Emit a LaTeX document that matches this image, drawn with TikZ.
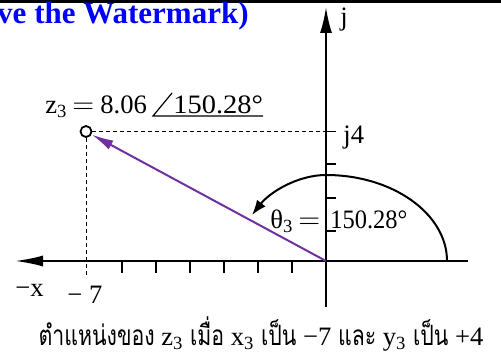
\documentclass[tikz,border=0pt]{standalone}
\usepackage{fontspec}
\setmainfont{Liberation Serif}
\newfontfamily\thaifont[Script=Thai,FakeStretch=0.76]{Loma}
\usetikzlibrary{arrows.meta}
\definecolor{zpurple}{RGB}{112,48,160}
\definecolor{wmblue}{RGB}{0,0,255}
\begin{document}
\begin{tikzpicture}[x=0.5pt,y=-0.5pt,
  axis/.style={line width=1pt},
  tickline/.style={line width=0.8pt},
  guide/.style={line width=0.5pt, dash pattern=on 2pt off 1.5pt},
  lbl/.style={inner sep=0pt, anchor=base west, font=\fontsize{13.3}{15}\selectfont},
  every node/.style={inner sep=0pt}]
\useasboundingbox (0,0) rectangle (501,358);
% page border artefact
\coordinate (bl) at (0,1.5);
\coordinate (br) at (501,1.5);
\draw[line width=1.2pt] (bl) -- (br);
\coordinate (bt1) at (309,0);
\coordinate (bt2) at (309,1.5);
\draw[line width=0.5pt] (bt1) -- (bt2);
% watermark
\node[anchor=base east, text=wmblue, font=\bfseries\fontsize{15.5}{17}\selectfont] (wm) at (249,24) {ve the Watermark)};
% axes
\coordinate (O) at (326,261);
\coordinate (xl) at (15,261);
\coordinate (xr) at (468,261);
\coordinate (yt) at (326,7);
\coordinate (yb) at (326,307);
\draw[axis, -{Latex[length=14pt,width=5.5pt]}] (xr) -- (xl);
\draw[axis, -{Latex[length=13pt,width=6pt]}] (yb) -- (yt);
% x ticks
\foreach \k in {1,...,6}{
  \coordinate (xt\k) at ({326-34*\k},261);
  \draw[tickline] (xt\k) -- ++(0,12);
}
% y ticks
\foreach \yy [count=\k] in {231,198,164,131.5}{
  \coordinate (yt\k) at (326,\yy);
  \draw[tickline] (yt\k) -- ++(10,0);
}
% point z3
\node[draw, circle, line width=0.9pt, fill=white, minimum size=5.5pt] (z) at (86,131.5) {};
\coordinate (zh) at (326,131.5);
\coordinate (zv) at (86,276);
\draw[guide] (z.east) -- (zh);
\draw[guide] (z.south) -- (zv);
\draw[zpurple, line width=1pt, -{Latex[length=11pt,width=5pt]}] (O) -- (z);
% angle arc
\coordinate (a0) at (447,261);
\coordinate (a1) at (326,175);
\coordinate (a2) at (252,215);
\draw[line width=1pt, -{Latex[length=7.5pt,width=5.5pt]}] (a0) .. controls (447,214) and (393,175) .. (a1) .. controls (298,175) and (270,192) .. (a2);
% z3 label
\node[lbl] (zl) at (45,113) {z\textsubscript{3}};
\node[lbl] (zeq) at (72,113) {$=$};
\node[lbl] (zmag) at (100,113) {8.06};
\node[lbl] (zang) at (173,113) {\scalebox{1.07}[1]{150.28°}};
\coordinate (u0) at (153,116);
\coordinate (u1) at (263,116);
\coordinate (u2) at (172,93);
\draw[line width=0.6pt] (u2) -- (u0) -- (u1);
% theta label
\node[lbl] (th) at (270,228) {θ\textsubscript{3}};
\node[lbl] (theq) at (298,228) {$=$};
\node[lbl] (thv) at (330,228) {\scalebox{0.92}[1]{150.28°}};
\node[lbl] (j) at (340,26) {j};
\node[lbl] (j4) at (343,143) {j4};
\node[lbl] (mx) at (15,296) {−x};
\node[lbl] (m7) at (67,303) {− 7};
\node[anchor=base, font=\fontsize{13.3}{15}\selectfont] (cap) at (261,345) {{\thaifont\fontsize{14}{15}\selectfont ตำแหน่งของ} z\textsubscript{3} {\thaifont\fontsize{14}{15}\selectfont เมื่อ} x\textsubscript{3} {\thaifont\fontsize{14}{15}\selectfont เป็น} −7 {\thaifont\fontsize{14}{15}\selectfont และ} y\textsubscript{3} {\thaifont\fontsize{14}{15}\selectfont เป็น} +4};
\end{tikzpicture}
\end{document}
